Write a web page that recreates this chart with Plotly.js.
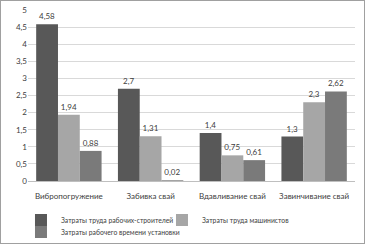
<!DOCTYPE html>
<html><head><meta charset="utf-8">
<script src="https://cdn.plot.ly/plotly-3.0.1.min.js"></script>
<style>
html,body{margin:0;padding:0;background:#fff;}
#wrap{position:relative;width:365px;height:244px;}
#chart{width:365px;height:244px;}
#border{position:absolute;left:0;top:0;width:363px;height:242px;border:1px solid #a0a0a0;pointer-events:none;}
</style></head>
<body><div id="wrap"><div id="chart"></div><div id="border"></div></div>
<script>
const categories = ["Вибропогружение", "Забивка свай", "Вдавливание свай", "Завинчивание свай"];
const seriesNames = ["Затраты труда рабочих-строителей", "Затраты труда машинистов", "Затраты рабочего времени установки"];
const workers = [4.58, 2.7, 1.4, 1.3];
const machinists = [1.94, 1.31, 0.75, 2.3];
const installTime = [0.88, 0.02, 0.61, 2.62];
const colors = ["#585858", "#a6a6a6", "#7a7a7a"];
const legendIds = ["legend", "legend", "legend2"];
const fmt = v => String(v).replace('.', ',');
const all = [workers, machinists, installTime];
const traces = all.map((vals, i) => ({
  type: 'bar', x: categories, y: vals, name: seriesNames[i],
  marker: {color: colors[i]}, legend: legendIds[i],
  text: vals.map(fmt), textposition: 'outside', cliponaxis: false,
  textfont: {family: 'Lato, sans-serif', size: 8, color: '#404040'}
}));
const legendBase = {orientation: 'h', xref: 'container', yref: 'container',
    x: 0.0575, xanchor: 'left', yanchor: 'top',
    entrywidth: 96, entrywidthmode: 'pixels', traceorder: 'normal',
    font: {size: 6.8, color: '#404040'}, itemwidth: 30, tracegroupgap: 0,
    bgcolor: 'rgba(0,0,0,0)'};
const layout = {
  width: 365, height: 244,
  margin: {l: 28, r: 10, t: 10, b: 63},
  paper_bgcolor: '#fff', plot_bgcolor: '#fff',
  separators: ', ',
  font: {family: 'Lato, sans-serif', size: 8, color: '#404040'},
  barmode: 'group', bargap: 0.2, bargroupgap: 0,
  showlegend: true,
  legend: Object.assign({}, legendBase, {y: 0.158}),
  legend2: Object.assign({}, legendBase, {y: 0.109, entrywidth: 170}),
  xaxis: {showline: true, linecolor: '#bfbfbf', linewidth: 1,
    ticks: 'outside', ticklen: 7, tickcolor: 'rgba(0,0,0,0)',
    tickfont: {size: 8}, showgrid: false},
  yaxis: {range: [0, 5], dtick: 0.5, showgrid: true, gridcolor: '#d9d9d9',
    zeroline: false, showline: false, ticks: '', tickfont: {size: 8}}
};
Plotly.newPlot('chart', traces, layout, {displayModeBar: false, staticPlot: true});
</script></body></html>
